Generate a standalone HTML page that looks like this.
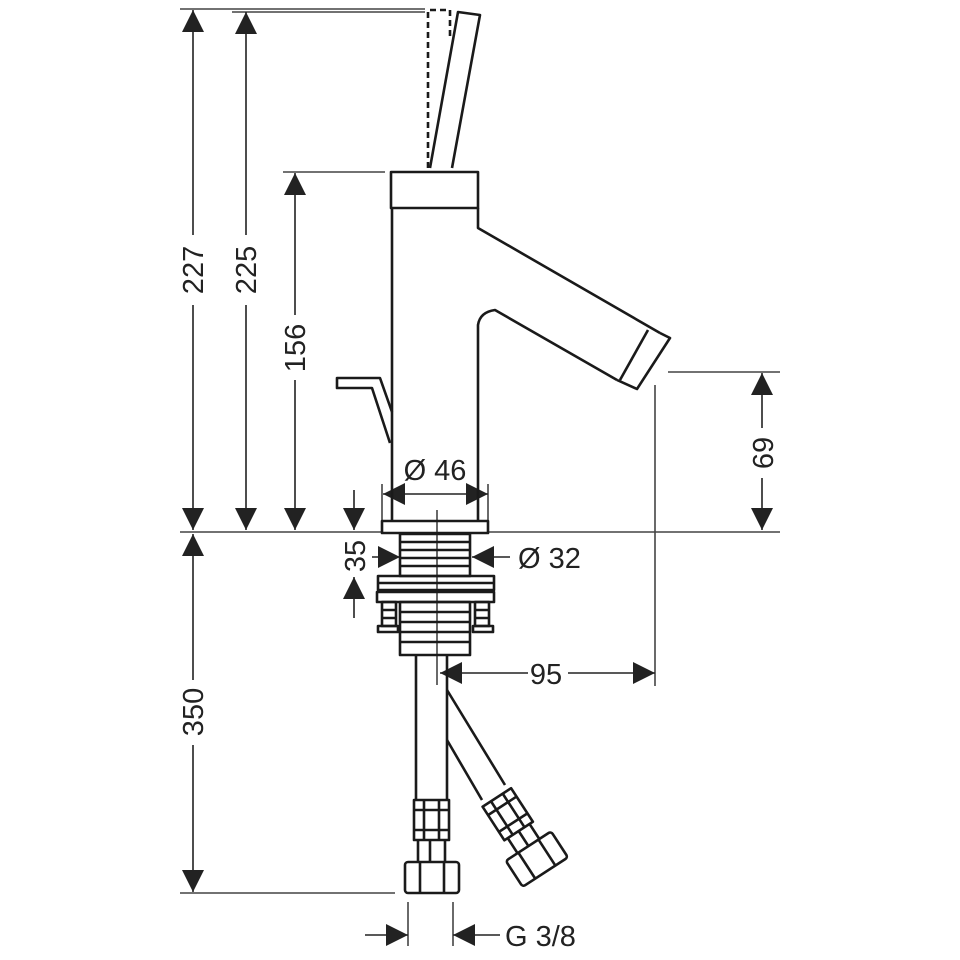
<!DOCTYPE html>
<html><head><style>html,body{margin:0;padding:0;background:#fff}svg{display:block}</style></head>
<body>
<svg width="960" height="960" viewBox="0 0 960 960" xmlns="http://www.w3.org/2000/svg" font-family="Liberation Sans, sans-serif">
<defs>
<marker id="a" viewBox="0 0 10 10" refX="10" refY="5" markerWidth="22" markerHeight="22" markerUnits="userSpaceOnUse" orient="auto-start-reverse"><path d="M0,0 L10,5 L0,10 z" fill="#222"/></marker>
</defs>
<g stroke="#444" stroke-width="1.6" fill="none">
<line x1="180" y1="9" x2="425" y2="9"/>
<line x1="232" y1="12" x2="425" y2="12"/>
<line x1="283" y1="172" x2="385" y2="172"/>
<line x1="180" y1="532" x2="382" y2="532"/>
<line x1="488" y1="532" x2="780" y2="532"/>
<line x1="668" y1="372" x2="780" y2="372"/>
<line x1="180" y1="893" x2="395" y2="893"/>
<line x1="655" y1="385" x2="655" y2="686"/>
<line x1="408" y1="902" x2="408" y2="946"/>
<line x1="453" y1="902" x2="453" y2="946"/>
<line x1="437" y1="510" x2="437" y2="685"/>
<line x1="382" y1="484" x2="382" y2="520"/>
<line x1="488" y1="484" x2="488" y2="520"/>
</g>
<g stroke="#222" stroke-width="1.6" fill="none">
<line x1="193" y1="10" x2="193" y2="235" marker-start="url(#a)"/>
<line x1="193" y1="305" x2="193" y2="530" marker-end="url(#a)"/>
<line x1="246" y1="12" x2="246" y2="235" marker-start="url(#a)"/>
<line x1="246" y1="305" x2="246" y2="530" marker-end="url(#a)"/>
<line x1="295" y1="173" x2="295" y2="315" marker-start="url(#a)"/>
<line x1="295" y1="380" x2="295" y2="530" marker-end="url(#a)"/>
<line x1="193" y1="534" x2="193" y2="680" marker-start="url(#a)"/>
<line x1="193" y1="745" x2="193" y2="892" marker-end="url(#a)"/>
<line x1="762" y1="373" x2="762" y2="428" marker-start="url(#a)"/>
<line x1="762" y1="478" x2="762" y2="530" marker-end="url(#a)"/>
<line x1="354" y1="490" x2="354" y2="530" marker-end="url(#a)"/>
<line x1="354" y1="618" x2="354" y2="577" marker-end="url(#a)"/>
<line x1="383" y1="494" x2="488" y2="494" marker-start="url(#a)" marker-end="url(#a)"/>
<line x1="372" y1="557" x2="400" y2="557" marker-end="url(#a)"/>
<line x1="510" y1="557" x2="472" y2="557" marker-end="url(#a)"/>
<line x1="528" y1="673" x2="440" y2="673" marker-end="url(#a)"/>
<line x1="568" y1="673" x2="655" y2="673" marker-end="url(#a)"/>
<line x1="365" y1="935" x2="408" y2="935" marker-end="url(#a)"/>
<line x1="500" y1="935" x2="453" y2="935" marker-end="url(#a)"/>
</g>
<g fill="#222" font-size="29">
<text transform="translate(203,270) rotate(-90)" text-anchor="middle">227</text>
<text transform="translate(256,270) rotate(-90)" text-anchor="middle">225</text>
<text transform="translate(305,348) rotate(-90)" text-anchor="middle">156</text>
<text transform="translate(203,712) rotate(-90)" text-anchor="middle">350</text>
<text transform="translate(773,453) rotate(-90)" text-anchor="middle">69</text>
<text transform="translate(365,556) rotate(-90)" text-anchor="middle">35</text>
<text x="435" y="480" text-anchor="middle">Ø 46</text>
<text x="518" y="568">Ø 32</text>
<text x="546" y="684" text-anchor="middle">95</text>
<text x="505" y="946">G 3/8</text>
</g>
<g stroke="#1a1a1a" stroke-width="2.6" fill="none" stroke-linejoin="round">
<path d="M430,168 L458,12 L480,15 L452,168"/>
<path d="M428,168 L428,10 L450,10 L450,40" stroke-dasharray="6,4"/>
<rect x="391" y="172" width="87" height="36"/>
<path d="M392,208 L392,520"/>
<path d="M478,208 L478,228 L660,333"/>
<path d="M478,520 L478,325 Q480,312 495,310 L617,380"/>
<path d="M660,333 L670,338 L637,389 L617,380"/>
<line x1="648" y1="330" x2="620" y2="380"/>
<path d="M390,443 L372,388 L337,388 L337,378 L380,378 L392,412"/>
<rect x="382" y="521" width="106" height="12"/>
<rect x="400" y="534" width="70" height="42"/>
<path d="M400,542 H470 M400,550 H470 M400,558 H470 M400,566 H470"/>
<rect x="378" y="576" width="116" height="14"/>
<path d="M378,583 H494"/>
<rect x="377" y="592" width="117" height="10"/>
<rect x="382" y="602" width="14" height="24"/>
<rect x="475" y="602" width="14" height="24"/>
<path d="M382,610 H396 M382,618 H396 M475,610 H489 M475,618 H489"/>
<rect x="378" y="626" width="20" height="6"/>
<rect x="473" y="626" width="20" height="6"/>
<rect x="400" y="602" width="70" height="53"/>
<path d="M400,612 H470 M400,622 H470 M400,632 H470 M400,642 H470"/>
<path d="M416,655 L416,800 M447,655 L447,800"/>
<path d="M447,740 L482,800 M447,690 L505,785"/>
<rect x="414" y="800" width="35" height="40"/>
<path d="M424,800 V840 M439,800 V840 M414,810 H449 M414,830 H449"/>
<path d="M418,840 V862 M445,840 V862 M430,840 V862"/>
<rect x="405" y="862" width="54" height="31" rx="3"/>
<path d="M420,862 V893 M444,862 V893"/>
<g transform="translate(496,798) rotate(-33)">
<rect x="-16" y="0" width="34" height="40"/>
<path d="M-6,0 V40 M8,0 V40 M-16,10 H18 M-16,30 H18"/>
<path d="M-12,40 V58 M14,40 V58 M1,40 V58"/>
<rect x="-26" y="58" width="54" height="31" rx="3"/>
<path d="M-11,58 V89 M13,58 V89"/>
</g>
</g>
</svg>
</body></html>
